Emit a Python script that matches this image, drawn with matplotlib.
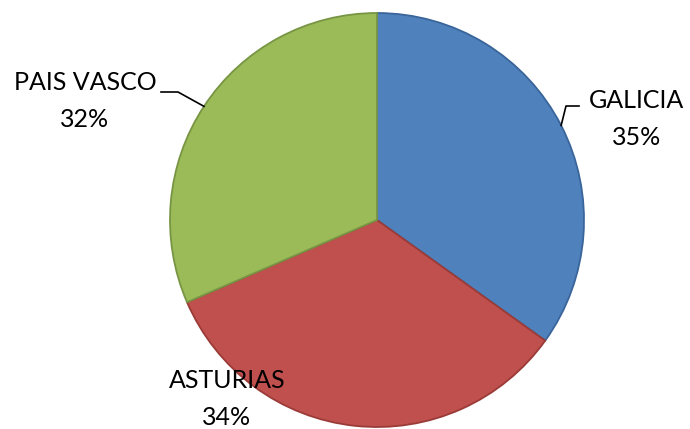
import numpy as np
import matplotlib.pyplot as plt

regions = ['GALICIA', 'ASTURIAS', 'PAIS VASCO']
shares = [34.9, 33.6, 31.5]
pct_labels = ['35%', '34%', '32%']

colors = ['#4F81BD', '#C0504D', '#9BBB59']
edges = ['#3A659A', '#9A3B38', '#789544']

fig = plt.figure(figsize=(6.9, 4.29), dpi=100)
ax = fig.add_axes([0, 0, 1, 1])

cx, cy, r = 377, -220, 207
wedges, _ = ax.pie(shares, colors=colors, startangle=90, counterclock=False,
                   center=(cx, cy), radius=r, frame=True)
for w, ec in zip(wedges, edges):
    w.set_edgecolor(ec)
    w.set_linewidth(1.3)
ax.set_xlim(0, 690)
ax.set_ylim(-429, 0)
ax.set_aspect('equal')
ax.axis('off')

font = dict(family=['Lato', 'DejaVu Sans'], fontsize=18, color='black')

# label positions (text centre) and leader lines
text_pos = {'GALICIA': (637, -119), 'ASTURIAS': (227, -399), 'PAIS VASCO': (85, -101)}
for w, name, pct in zip(wedges, regions, pct_labels):
    tx, ty = text_pos[name]
    ax.text(tx, ty, name + '\n' + pct, ha='center', va='center',
            linespacing=1.75, **font)
    mid = np.deg2rad((w.theta1 + w.theta2) / 2)
    px, py = cx + r * np.cos(mid), cy + r * np.sin(mid)
    if name == 'PAIS VASCO':
        ax.plot([161, 178, px], [-92, -92, py], color='black', lw=1.2)
    elif name == 'GALICIA':
        ax.plot([579, 566, px], [-106, -106, py], color='black', lw=1.2)

fig.savefig('out.png', dpi=100)
